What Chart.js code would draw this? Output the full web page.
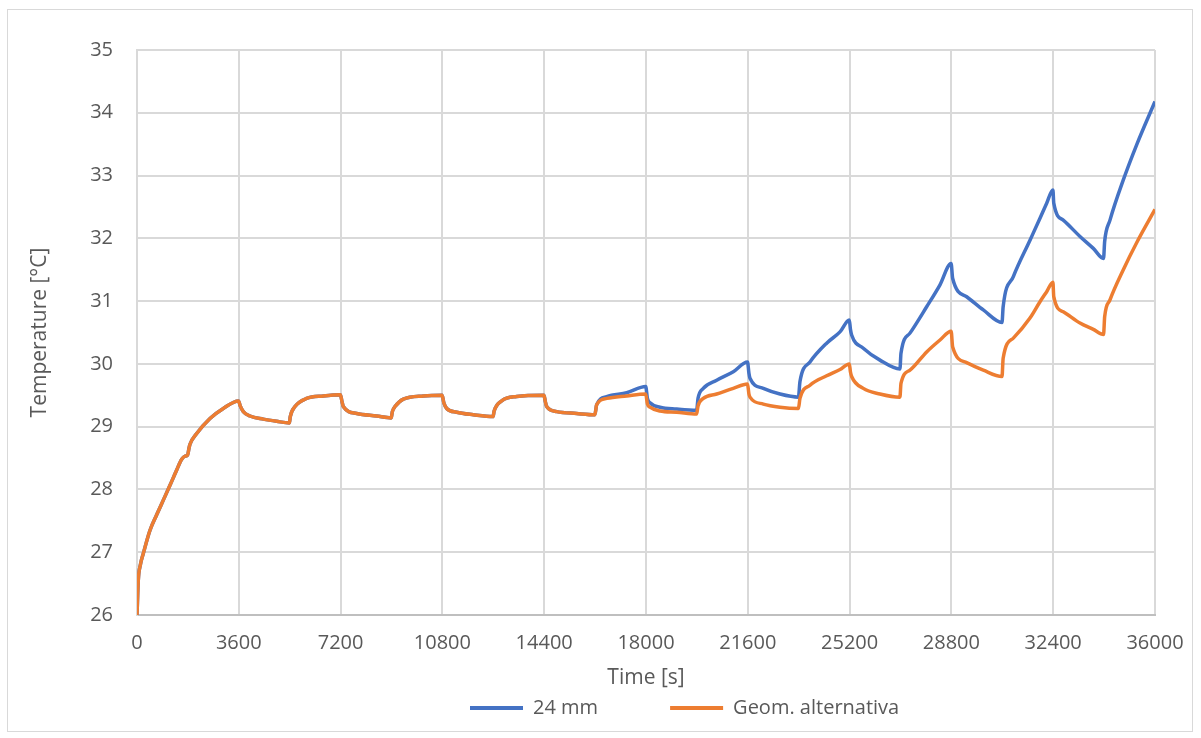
<!DOCTYPE html>
<html>
<head>
<meta charset="utf-8">
<script src="https://cdn.jsdelivr.net/npm/chart.js@4.4.1/dist/chart.umd.min.js"></script>
<style>
  html, body { margin: 0; padding: 0; background: #fff; }
  #wrap { position: relative; width: 1201px; height: 738px; }
  #frame {
    position: absolute; left: 7px; top: 9px; width: 1186px; height: 723px;
    border: 1px solid #D9D9D9; box-sizing: border-box; pointer-events: none;
  }
  #chart { position: absolute; left: 0; top: 0; }
</style>
</head>
<body>
<div id="wrap">
  <canvas id="chart" width="1201" height="738"></canvas>
  <div id="frame"></div>
</div>
<script>
// Time [s] - shared by both series
const time = [
  0, 46, 120, 223, 460, 700, 930, 1170, 1404, 1581, 1700, 1790, 1840, 1874, 2111, 2581, 3052, 3590,
  3650, 3759, 3996, 4466, 4940, 5390,
  5420, 5587, 6000, 6588, 7190,
  7250, 7295, 7770, 8476, 8990,
  9030, 9124, 9418, 10125, 10790,
  10850, 10952, 11306, 11893, 12590,
  12630, 12897, 13427, 14390,
  14440, 14488, 14842, 15549, 16190,
  16256, 16610, 17317, 17990,
  18050, 18141, 18495, 19085, 19790,
  19840, 20026, 20500, 21087, 21590,
  21640, 21677, 22148, 22738, 23390,
  23445, 23799, 24388, 24860, 25190,
  25230, 25272, 25684, 26274, 26980,
  27017, 27335, 27925, 28397, 28790,
  28845, 29340, 29928, 30590,
  30630, 30990, 31579, 31933, 32170, 32390,
  32420, 32755, 33347, 33818, 34180,
  34220, 34408, 34879, 35351, 36000
]

// Temperature [°C] - 24 mm
const temp24mm = [
  26.0, 26.56, 26.8, 26.98, 27.35, 27.6, 27.83, 28.07, 28.31, 28.48, 28.53, 28.55, 28.66, 28.72, 28.89, 29.13, 29.29, 29.41,
  29.33, 29.24, 29.17, 29.12, 29.085, 29.06,
  29.16, 29.32, 29.45, 29.49, 29.51,
  29.40, 29.32, 29.21, 29.17, 29.14,
  29.24, 29.32, 29.44, 29.49, 29.50,
  29.38, 29.29, 29.23, 29.19, 29.16,
  29.25, 29.41, 29.48, 29.50,
  29.40, 29.32, 29.24, 29.21, 29.19,
  29.35, 29.48, 29.54, 29.64,
  29.45, 29.38, 29.31, 29.28, 29.26,
  29.45, 29.61, 29.74, 29.875, 30.03,
  29.85, 29.77, 29.61, 29.52, 29.47,
  29.72, 30.03, 30.33, 30.51, 30.70,
  30.55, 30.46, 30.25, 30.06, 29.92,
  30.17, 30.49, 30.91, 31.26, 31.60,
  31.36, 31.07, 30.86, 30.66,
  30.91, 31.39, 31.97, 32.32, 32.56, 32.77,
  32.56, 32.29, 32.03, 31.84, 31.68,
  31.95, 32.29, 32.93, 33.49, 34.18
]

// Temperature [°C] - Geom. alternativa
const tempGeomAlt = [
  26.0, 26.56, 26.8, 26.98, 27.35, 27.6, 27.83, 28.07, 28.31, 28.48, 28.53, 28.55, 28.66, 28.72, 28.89, 29.13, 29.29, 29.41,
  29.33, 29.24, 29.17, 29.12, 29.085, 29.06,
  29.16, 29.32, 29.45, 29.49, 29.51,
  29.40, 29.32, 29.21, 29.17, 29.14,
  29.24, 29.32, 29.44, 29.49, 29.50,
  29.38, 29.29, 29.23, 29.19, 29.16,
  29.25, 29.41, 29.48, 29.50,
  29.40, 29.32, 29.24, 29.21, 29.19,
  29.35, 29.45, 29.49, 29.52,
  29.36, 29.31, 29.25, 29.23, 29.20,
  29.33, 29.45, 29.52, 29.61, 29.68,
  29.52, 29.47, 29.36, 29.31, 29.29,
  29.45, 29.66, 29.81, 29.91, 30.00,
  29.87, 29.80, 29.61, 29.52, 29.47,
  29.69, 29.90, 30.19, 30.38, 30.52,
  30.27, 30.02, 29.90, 29.80,
  30.09, 30.41, 30.73, 30.99, 31.15, 31.30,
  31.07, 30.83, 30.65, 30.55, 30.47,
  30.75, 31.02, 31.50, 31.93, 32.46
]

const COLORS = {
  blue: '#4472C4',
  orange: '#ED7D31',
  grid: '#D9D9D9',
  axis: '#BFBFBF',
  text: '#595959'
}

const FONT = "'Open Sans', 'Noto Sans', sans-serif"

const toPoints = (values) => time.map((t, i) => ({ x: t, y: values[i] }))

// Put the legend row where Excel puts it (under the plot, shifted right)
const legendPlace = {
  id: 'legendPlace',
  afterLayout(chart) {
    const lg = chart.legend
    if (!lg) return
    const pad = lg.options.labels.padding
    lg.left = 470 - pad
    lg.top = 708 - 10 - pad
  }
}

new Chart(document.getElementById('chart'), {
  type: 'line',
  data: {
    datasets: [{
      label: '24 mm',
      data: toPoints(temp24mm),
      borderColor: COLORS.blue,
      backgroundColor: COLORS.blue,
      borderWidth: 3.5,
      pointRadius: 0,
      cubicInterpolationMode: 'monotone',
      order: 1
    }, {
      label: 'Geom. alternativa',
      data: toPoints(tempGeomAlt),
      borderColor: COLORS.orange,
      backgroundColor: COLORS.orange,
      borderWidth: 3.5,
      pointRadius: 0,
      cubicInterpolationMode: 'monotone',
      order: 0
    }]
  },
  plugins: [legendPlace],
  options: {
    responsive: false,
    animation: false,
    layout: {
      padding: { top: 50, right: 46, left: 0, bottom: 0 }
    },
    plugins: {
      tooltip: { enabled: false },
      legend: {
        position: 'bottom',
        align: 'start',
        maxHeight: 40,
        labels: {
          boxWidth: 53,
          boxHeight: 4,
          padding: 72,
          color: COLORS.text,
          font: { family: FONT, size: 20 },
          sort: (a, b) => a.datasetIndex - b.datasetIndex,
          generateLabels: (chart) => Chart.defaults.plugins.legend.labels.generateLabels(chart)
            .map(l => ({ ...l, lineWidth: 0, fillStyle: l.strokeStyle }))
        }
      }
    },
    scales: {
      x: {
        type: 'linear',
        min: 0,
        max: 36000,
        ticks: {
          stepSize: 3600,
          color: COLORS.text,
          font: { family: FONT, size: 20 },
          padding: 16,
          maxRotation: 0,
          autoSkip: false,
          callback: (value) => String(value)
        },
        grid: { color: COLORS.grid, lineWidth: 2, drawTicks: false, tickLength: 0 },
        border: { color: COLORS.axis, width: 2 },
        title: {
          display: true,
          text: 'Time [s]',
          color: COLORS.text,
          font: { family: FONT, size: 21 },
          padding: { top: 0, bottom: 7 }
        },
        afterFit: (scale) => { scale.height = 83 }
      },
      y: {
        min: 26,
        max: 35,
        ticks: {
          stepSize: 1,
          color: COLORS.text,
          font: { family: FONT, size: 20 },
          padding: 24,
          callback: (value) => String(value)
        },
        grid: { color: COLORS.grid, lineWidth: 2, drawTicks: false, tickLength: 0 },
        border: { color: COLORS.grid, width: 2 },
        title: {
          display: true,
          text: 'Temperature [°C]',
          color: COLORS.text,
          font: { family: FONT, size: 21 },
          padding: { top: 27, bottom: 0 }
        },
        afterFit: (scale) => { scale.width = 137 }
      }
    }
  }
})
</script>
</body>
</html>
